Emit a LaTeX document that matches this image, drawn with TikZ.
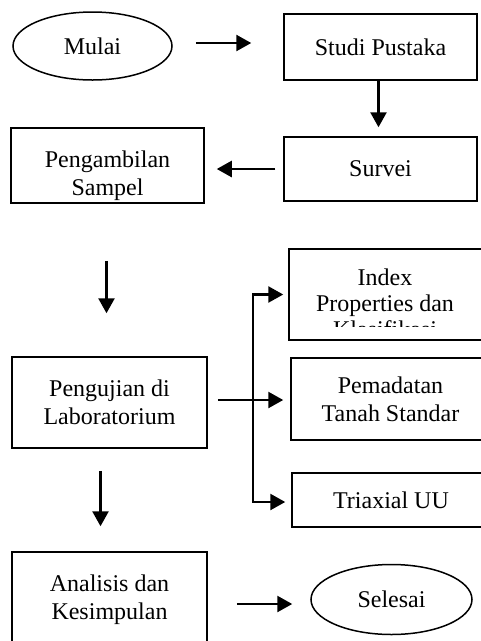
\documentclass[tikz,border=0pt]{standalone}
\usepackage{fontspec}
\setmainfont{Liberation Serif}
\usetikzlibrary{arrows.meta,shapes.geometric}
\begin{document}
\begin{tikzpicture}[x=1pt,y=-1pt,
  font=\fontsize{24}{28}\selectfont,
  box/.style={draw,line width=1.5pt,align=center,inner sep=0pt},
  term/.style={ellipse,draw,line width=1.5pt,inner sep=0pt},
  flow/.style={line width=2.5pt,-{Triangle[length=15pt,width=16pt]}}]
\useasboundingbox (0,0) rectangle (481,641);
\clip (0,0) rectangle (481,641);
\node[term,minimum width=159pt,minimum height=68pt] (mulai) at (92.5,46) {Mulai};
\node[box,minimum width=193pt,minimum height=66pt] (studi) at (380.5,47) {Studi Pustaka};
\node[box,minimum width=193pt,minimum height=64pt] (survei) at (380.5,169) {Survei};
\node[box,minimum width=193pt,minimum height=75pt] (ambil) at (107.5,165.5) {};
\node[align=center] (ambiltext) at (107.5,176) {Pengambilan\\Sampel};
\node[box,minimum width=195pt,minimum height=91pt] (uji) at (109.5,402.5) {Pengujian di\\Laboratorium};
\node[box,minimum width=201pt,minimum height=91pt] (index) at (389.5,294.5) {};
\begin{scope}
\clip (index.north west) rectangle ([yshift=14pt]index.south east);
\node[align=center,font=\fontsize{24}{26}\selectfont] (indextext) at (385,303) {Index\\Properties dan\\Klasifikasi};
\end{scope}
\node[box,minimum width=199pt,minimum height=82pt] (padat) at (390.5,399) {Pemadatan\\Tanah Standar};
\node[box,minimum width=198pt,minimum height=54pt] (triax) at (391,500) {Triaxial UU};
\node[box,minimum width=195pt,minimum height=96pt] (analisis) at (109.5,600) {Analisis dan\\Kesimpulan};
\node[term,minimum width=161pt,minimum height=70pt] (selesai) at (391.5,599.5) {Selesai};
\coordinate (bus) at (253,400);
\draw[flow,shorten <=23pt,shorten >=32pt] ([yshift=3pt]mulai.east) -- ([yshift=3pt]mulai.east -| studi.west);
\draw[flow,shorten >=9pt] ([xshift=-2pt]studi.south) -- ([xshift=-2pt]survei.north);
\draw[flow,shorten <=8pt,shorten >=12pt] (survei.west) -- (survei.west -| ambil.east);
\draw[flow,shorten <=57pt,shorten >=43pt] ([xshift=-1pt]ambil.south) -- ([xshift=-1pt]ambil.south |- uji.north);
\draw[flow,shorten <=22pt,shorten >=25pt] ([xshift=-9pt]uji.south) -- ([xshift=-9pt]analisis.north);
\draw[flow,shorten <=29pt,shorten >=18pt] ([yshift=-4pt]analisis.east) -- ([yshift=-4pt]analisis.east -| selesai.west);
\draw[flow,shorten <=10pt,shorten >=7pt] (uji.east |- bus) -- (bus -| padat.west);
\draw[flow,shorten >=5pt] (bus) |- (index.west);
\draw[flow,shorten >=6pt] (bus) |- ([yshift=-2pt]triax.west);
\end{tikzpicture}
\end{document}
